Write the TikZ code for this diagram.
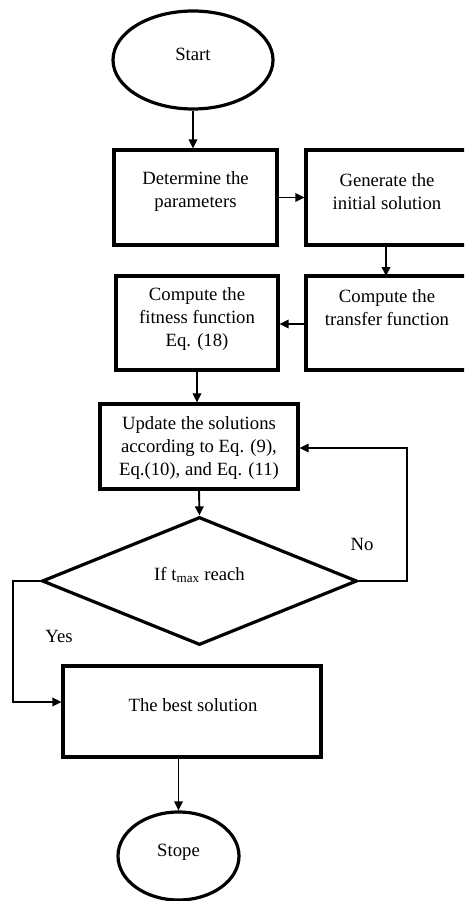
\documentclass[tikz,border=0pt]{standalone}
\usepackage{fontspec}
\setmainfont{Liberation Serif}
\usetikzlibrary{shapes.geometric,arrows.meta}
\begin{document}
\begin{tikzpicture}[x=1pt,y=-1pt,
  shapebox/.style={draw,line width=3.2pt,rectangle,inner sep=0pt},
  oval/.style={draw,line width=3.2pt,ellipse,inner sep=0pt},
  dec/.style={draw,line width=3.2pt,diamond,inner sep=0pt},
  txt/.style={align=center,inner sep=0pt,font=\fontsize{18.7}{23}\selectfont},
  conn/.style={line width=1.9pt,-{Triangle[length=9pt,width=8.5pt]}},
  plain/.style={line width=1.9pt}]
\clip (0,0) rectangle (464,901);
\fill[white] (0,0) rectangle (464,901);
% shapes
\node[oval,minimum width=160,minimum height=98] (start) at (193,60) {};
\node[txt] (startt) at (193,54) {Start};
\node[shapebox,minimum width=163,minimum height=95] (det) at (195.5,197.5) {};
\node[txt] (dett) at (195.5,191.5) {Determine the\\parameters};
\node[shapebox,minimum width=170,minimum height=95] (gen) at (391,197.5) {};
\node[txt] (gent) at (387,191.5) {Generate the\\initial solution};
\node[shapebox,minimum width=162,minimum height=94] (fit) at (197,323) {};
\node[txt] (fitt) at (197,319) {Compute the\\fitness function\\Eq. (18)};
\node[shapebox,minimum width=170,minimum height=94] (tra) at (391,323) {};
\node[txt] (trat) at (387,307.5) {Compute the\\transfer function};
\node[shapebox,minimum width=198,minimum height=85] (upd) at (199,446.5) {};
\node[txt] (updt) at (199,447.5) {Update the solutions\\according to Eq. (9),\\Eq.(10), and Eq. (11)};
\node[dec,minimum width=315,minimum height=128] (dia) at (199.5,581) {};
\node[txt] (diat) at (199.5,575) {If t\textsubscript{max} reach};
\node[shapebox,minimum width=258,minimum height=91] (best) at (192,711.5) {};
\node[txt] (bestt) at (193,705) {The best solution};
\node[oval,minimum width=121,minimum height=88] (stop) at (178.5,856) {};
\node[txt] (stopt) at (178.5,852) {Stope};
% labels
\node[txt] (no) at (362,544) {No};
\node[txt] (yes) at (59,636) {Yes};
% connectors
\coordinate (nr) at (407,581);
\coordinate (yl) at (13,581);
\draw[conn] (start.south) -- (start.south |- det.north);
\draw[conn] (det.east) -- (gen.west);
\draw[conn] (386,245) -- (386,276);
\draw[conn] (tra.west |- 0,324) -- (fit.east |- 0,324);
\draw[conn] (fit.south) -- (fit.south |- upd.north);
\draw[conn] (upd.south) -- (dia.north);
\draw[conn] (dia.east) -- (nr) -- (nr |- 0,448) -- (upd.east |- 0,448);
\draw[conn] (dia.west) -- (yl) -- (yl |- 0,702) -- (best.west |- 0,702);
\draw[conn] (stop.north |- best.south) -- (stop.north);
\end{tikzpicture}
\end{document}
